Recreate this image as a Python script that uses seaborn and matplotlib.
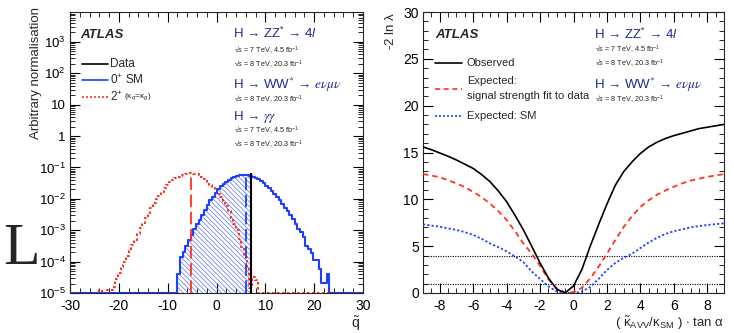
import numpy as np
import pandas as pd
import matplotlib
matplotlib.use("Agg")
import matplotlib.pyplot as plt
import seaborn as sns
from matplotlib.lines import Line2D
from matplotlib.ticker import MultipleLocator, LogLocator, FuncFormatter, NullFormatter

# ---------------- data ----------------
# Left panel: pseudo-experiment distributions of the test statistic q~ (log10 of normalised entries)
sm_range = (-8.0, 23.1)
sm_log10 = [-4.40, -3.86, -3.68, -3.49, -3.30, -3.15, -2.95, -2.80, -2.68, -2.50,
            -2.34, -2.20, -2.05, -1.93, -1.80, -1.70, -1.60, -1.52, -1.45, -1.39,
            -1.34, -1.30, -1.27, -1.25, -1.24, -1.24, -1.25, -1.27, -1.29, -1.33,
            -1.37, -1.43, -1.50, -1.58, -1.66, -1.75, -1.85, -1.95, -2.05, -2.15,
            -2.28, -2.40, -2.52, -2.65, -2.80, -2.95, -3.05, -3.20, -3.50, -3.60,
            -3.72, -3.94, -3.94, -4.23, -4.68, -4.68, -4.39]
spin2_range = (-24.0, 8.4)
spin2_log10 = [-4.90, -6.00, -6.00, -4.90, -4.90, -4.80, -4.55, -4.35, -4.16, -4.00,
               -3.82, -3.66, -3.48, -3.30, -3.12, -2.94, -2.77, -2.60, -2.44, -2.28,
               -2.12, -2.00, -1.90, -1.78, -1.66, -1.56, -1.47, -1.40, -1.34, -1.30,
               -1.26, -1.23, -1.21, -1.19, -1.19, -1.20, -1.21, -1.25, -1.30, -1.37,
               -1.47, -1.57, -1.66, -1.74, -1.83, -1.95, -2.08, -2.22, -2.40, -2.60,
               -2.80, -3.00, -3.28, -3.55, -3.85, -4.25, -4.85, -4.50, -4.60]
q_obs, q_obs_top = 7.0, 0.069
q_med_sm, q_med_sm_top = 5.97, 0.057
q_med_2p, q_med_2p_top = -5.3, 0.064

# Right panel: -2 ln lambda scans
kappa_tan = [-9.0, -8.5, -8.0, -7.5, -7.0, -6.5, -6.0, -5.5, -5.0, -4.5, -4.0, -3.5,
             -3.0, -2.5, -2.0, -1.5, -1.0, -0.5, 0.0, 0.5, 1.0, 1.5, 2.0, 2.5, 3.0,
             3.5, 4.0, 4.5, 5.0, 5.5, 6.0, 6.5, 7.0, 7.5, 8.0, 8.5, 9.0]
observed = [15.6, 15.3, 14.95, 14.6, 14.2, 13.75, 13.3, 12.65, 11.9, 10.9, 9.75, 8.3,
            6.75, 5.0, 3.2, 1.6, 0.4, 0.02, 0.75, 2.5, 5.0, 7.3, 9.5, 11.5, 12.95,
            14.0, 14.9, 15.6, 16.1, 16.5, 16.8, 17.05, 17.3, 17.55, 17.7, 17.85, 18.0]
expected_fit = [12.7, 12.55, 12.35, 12.05, 11.7, 11.3, 10.8, 10.25, 9.55, 8.75, 7.8, 6.6,
                5.3, 4.2, 2.9, 1.45, 0.5, 0.05, 0.1, 0.55, 1.55, 2.8, 4.2, 5.65, 7.05,
                8.2, 9.2, 9.9, 10.5, 10.95, 11.35, 11.7, 12.0, 12.2, 12.4, 12.55, 12.7]
expected_sm = [7.33, 7.2, 7.08, 6.9, 6.73, 6.5, 6.2, 5.8, 5.3, 4.9, 4.45, 3.9,
               3.3, 2.3, 1.5, 0.7, 0.18, 0.01, 0.0, 0.15, 0.65, 1.5, 2.45, 3.2, 3.75,
               4.2, 4.8, 5.4, 5.9, 6.3, 6.6, 6.8, 7.0, 7.15, 7.26, 7.35, 7.44]
cl_lines = [1.0, 4.0]

# ---------------- style ----------------
sns.set_style("ticks")
plt.rcParams["font.family"] = ["Liberation Sans", "DejaVu Sans"]
plt.rcParams["mathtext.fontset"] = "custom"
plt.rcParams["mathtext.rm"] = "Liberation Sans"
plt.rcParams["mathtext.it"] = "Liberation Sans:italic"
plt.rcParams["mathtext.bf"] = "Liberation Sans:bold"
plt.rcParams["mathtext.sf"] = "Liberation Sans"
plt.rcParams["hatch.linewidth"] = 0.5
plt.rcParams["axes.linewidth"] = 0.8
plt.rcParams["axes.unicode_minus"] = False

BLUE = "#1f3fff"
RED = "#ff3322"
NAVY = "#1f2a8f"
TXT = "#222222"
FLOOR = 1e-5

fig = plt.figure(figsize=(7.34, 3.33), dpi=100)
axL = fig.add_axes([70/734, 1-293/333, 293/734, 281/333])
axR = fig.add_axes([423/734, 1-293/333, 301/734, 281/333])


def style_axes(ax):
    ax.tick_params(which="both", direction="in", top=True, right=True,
                   labelsize=10, pad=3, colors="black")
    ax.tick_params(which="major", length=7, width=0.8)
    ax.tick_params(which="minor", length=3.5, width=0.6)
    for s in ax.spines.values():
        s.set_visible(True)
        s.set_linewidth(0.8)


# ---------------- left panel ----------------
def padded(rng, logs):
    vals = np.maximum(10.0 ** np.array(logs), FLOOR)
    edges = np.linspace(rng[0], rng[1], len(vals) + 1)
    full_edges = np.concatenate([[-30.0], edges, [30.0]])
    full_vals = np.concatenate([[FLOOR], vals, [FLOOR]])
    centers = 0.5 * (full_edges[:-1] + full_edges[1:])
    return edges, vals, full_edges, full_vals, centers

sm_e, sm_v, sm_fe, sm_fv, sm_c = padded(sm_range, sm_log10)
s2_e, s2_v, s2_fe, s2_fv, s2_c = padded(spin2_range, spin2_log10)

axL.set_yscale("log")
# hatched region below the observed value
mask = sm_e[:-1] < q_obs
h_edges = np.concatenate([sm_e[:-1][mask], [q_obs]])
h_vals = sm_v[mask]
axL.stairs(h_vals, h_edges, baseline=FLOOR, fill=True, hatch="\\" * 7,
           facecolor="none", edgecolor="#5a75f2", linewidth=0, zorder=1)

df2 = pd.DataFrame({"q": s2_c, "w": s2_fv})
dfs = pd.DataFrame({"q": sm_c, "w": sm_fv})
sns.histplot(data=df2, x="q", weights="w", bins=list(s2_fe), element="step", fill=False,
             color=RED, linestyle=(0, (1.2, 1.2)), linewidth=1.5, ax=axL, zorder=3)
sns.histplot(data=dfs, x="q", weights="w", bins=list(sm_fe), element="step", fill=False,
             color=BLUE, linewidth=1.5, ax=axL, zorder=4)

axL.vlines(q_med_2p, FLOOR, q_med_2p_top, colors=RED, linestyles=[(0, (7, 2.5))], linewidth=1.3, zorder=5)
axL.vlines(q_med_sm, FLOOR, q_med_sm_top, colors=BLUE, linestyles=[(0, (7, 2.5))], linewidth=1.3, zorder=5)
axL.vlines(q_obs, FLOOR, q_obs_top, colors="black", linewidth=1.5, zorder=6)

axL.set_xlim(-30, 30)
axL.set_ylim(FLOOR, 9e3)
style_axes(axL)
axL.tick_params(axis="y", labelsize=9.5)
axL.tick_params(axis="x", pad=4)
axL.xaxis.set_major_locator(MultipleLocator(10))
axL.xaxis.set_minor_locator(MultipleLocator(2))
axL.yaxis.set_major_locator(LogLocator(base=10, numticks=20))
axL.yaxis.set_minor_locator(LogLocator(base=10, subs=np.arange(2, 10), numticks=20))
axL.yaxis.set_minor_formatter(NullFormatter())

def logfmt(v, pos):
    e = int(round(np.log10(v)))
    if e == 0:
        return "1"
    if e == 1:
        return "10"
    return r"$10^{%d}$" % e
axL.yaxis.set_major_formatter(FuncFormatter(logfmt))

axL.set_ylabel("Arbitrary normalisation", fontsize=9.5, loc="top")
axL.yaxis.set_label_coords(-0.096, 1.018)
axL.set_xlabel(r"$\tilde{\rm q}$", fontsize=10, loc="right")
axL.xaxis.set_label_coords(0.99, -0.075)

tA = axL.transAxes
axL.text(0.034, 0.918, "ATLAS", transform=tA, fontsize=9.5, fontweight="bold",
         fontstyle="italic", va="center", ha="left")
axL.text(0.556, 0.924, r"H → ZZ$^{*}$ → 4$l$", transform=tA, fontsize=9.5, color=NAVY, va="center")
axL.text(0.560, 0.861, r"√s = 7 TeV, 4.5 fb$^{-1}$", transform=tA, fontsize=5.2, color=TXT, va="center")
axL.text(0.560, 0.813, r"√s = 8 TeV, 20.3 fb$^{-1}$", transform=tA, fontsize=5.2, color=TXT, va="center")
axL.text(0.556, 0.740, r"H → WW$^{*}$ → $e\nu\mu\nu$", transform=tA, fontsize=9.5, color=NAVY,
         va="center", math_fontfamily="stix")
axL.text(0.560, 0.686, r"√s = 8 TeV, 20.3 fb$^{-1}$", transform=tA, fontsize=5.2, color=TXT, va="center")
axL.text(0.556, 0.625, r"H → $\gamma\gamma$", transform=tA, fontsize=9.5, color=NAVY,
         va="center", math_fontfamily="stix")
axL.text(0.560, 0.577, r"√s = 7 TeV, 4.5 fb$^{-1}$", transform=tA, fontsize=5.2, color=TXT, va="center")
axL.text(0.560, 0.527, r"√s = 8 TeV, 20.3 fb$^{-1}$", transform=tA, fontsize=5.2, color=TXT, va="center")

# legend (left)
for y, col, ls, lab in [(0.815, "black", "-", "Data"),
                        (0.758, BLUE, "-", r"0$^{+}$ SM"),
                        (0.698, RED, (0, (1.2, 1.2)), r"2$^{+}$")]:
    axL.add_line(Line2D([0.041, 0.130], [y, y], transform=tA, color=col, ls=ls, lw=1.2))
    axL.text(0.137, y, lab, transform=tA, fontsize=8.5, va="center", ha="left")
axL.text(0.184, 0.700, r"($\mathrm{\kappa}_{q}$=$\mathrm{\kappa}_{g}$)", transform=tA,
         fontsize=6, va="center", ha="left")

# ---------------- right panel ----------------
dfR = pd.DataFrame({"x": kappa_tan, "obs": observed, "fit": expected_fit, "sm": expected_sm})
for y0 in cl_lines:
    axR.axhline(y0, color="black", lw=0.8, ls=(0, (1, 1.2)), zorder=1)
sns.lineplot(data=dfR, x="x", y="sm", color=BLUE, lw=1.3, ax=axR, zorder=3)
axR.lines[-1].set_linestyle((0, (1.2, 1.2)))
sns.lineplot(data=dfR, x="x", y="fit", color=RED, lw=1.3, ax=axR, zorder=4)
axR.lines[-1].set_linestyle((0, (3, 2.2)))
sns.lineplot(data=dfR, x="x", y="obs", color="black", lw=1.2, ax=axR, zorder=5)

axR.set_xlim(-9, 9)
axR.set_ylim(0, 30)
style_axes(axR)
axR.tick_params(axis="x", pad=4)
axR.xaxis.set_major_locator(MultipleLocator(2))
axR.xaxis.set_minor_locator(MultipleLocator(0.5))
axR.yaxis.set_major_locator(MultipleLocator(5))
axR.yaxis.set_minor_locator(MultipleLocator(1))
axR.set_ylabel(r"-2 ln $\mathrm{\lambda}$", fontsize=9.5, loc="top")
axR.yaxis.set_label_coords(-0.086, 1.0)
axR.set_xlabel(r"( $\tilde{\mathrm{\kappa}}_{\rm AVV}/\mathrm{\kappa}_{\rm SM}$ ) $\cdot$ tan $\mathrm{\alpha}$",
               fontsize=9.5, loc="right")
axR.xaxis.set_label_coords(1.0, -0.075)

tB = axR.transAxes
axR.text(0.040, 0.918, "ATLAS", transform=tB, fontsize=9.5, fontweight="bold",
         fontstyle="italic", va="center", ha="left")
axR.text(0.569, 0.922, r"H → ZZ$^{*}$ → 4$l$", transform=tB, fontsize=9.5, color=NAVY, va="center")
axR.text(0.573, 0.865, r"√s = 7 TeV, 4.5 fb$^{-1}$", transform=tB, fontsize=5.2, color=TXT, va="center")
axR.text(0.573, 0.815, r"√s = 8 TeV, 20.3 fb$^{-1}$", transform=tB, fontsize=5.2, color=TXT, va="center")
axR.text(0.569, 0.740, r"H → WW$^{*}$ → $e\nu\mu\nu$", transform=tB, fontsize=9.5, color=NAVY,
         va="center", math_fontfamily="stix")
axR.text(0.573, 0.687, r"√s = 8 TeV, 20.3 fb$^{-1}$", transform=tB, fontsize=5.2, color=TXT, va="center")

for y, col, ls in [(0.819, "black", "-"), (0.726, RED, (0, (3, 2.2))), (0.630, BLUE, (0, (1.2, 1.2)))]:
    axR.add_line(Line2D([0.040, 0.130], [y, y], transform=tB, color=col, ls=ls, lw=1.2))
axR.text(0.146, 0.819, "Observed", transform=tB, fontsize=8, va="center")
axR.text(0.146, 0.754, "Expected:", transform=tB, fontsize=8, va="center")
axR.text(0.146, 0.701, "signal strength fit to data", transform=tB, fontsize=8, va="center")
axR.text(0.146, 0.630, "Expected: SM", transform=tB, fontsize=8, va="center")

# stray glyph at the left edge
fig.text(3/734, 1-264/333, "L", fontsize=43, family=["Liberation Serif"], ha="left", va="baseline")

fig.savefig("out.png", dpi=100)
